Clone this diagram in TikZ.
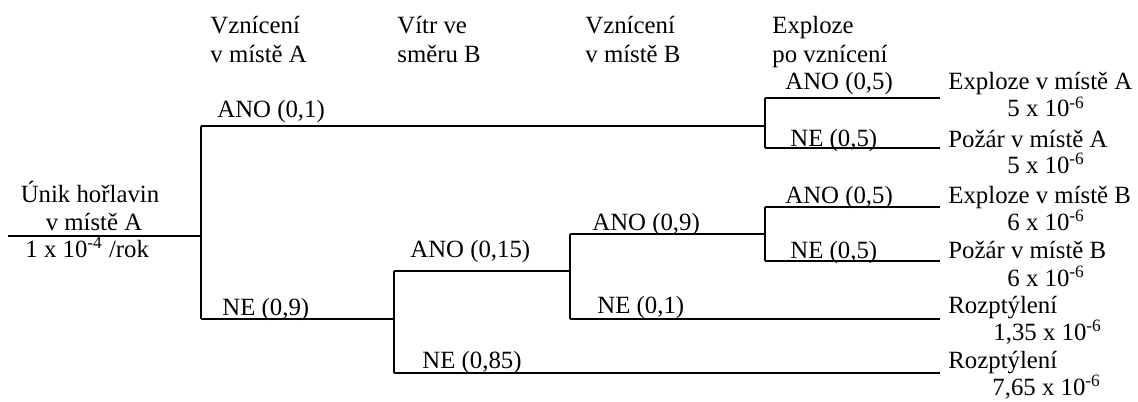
\documentclass[tikz,border=0pt]{standalone}
\usepackage{fontspec}
\setmainfont{Liberation Serif}
\begin{document}
\begin{tikzpicture}[x=0.5pt,y=-0.5pt,
  branch/.style={line width=0.9pt},
  txt/.style={inner sep=0pt,anchor=base west,font=\fontsize{12.4}{14}\selectfont},
  hdr/.style={txt,align=left,anchor=north west},
]
\useasboundingbox (0,0) rectangle (1138,401);
% headers
\node[txt] (h1a) at (210,34) {Vznícení};
\node[txt] (h1b) at (210,62) {v místě A};
\node[txt] (h2a) at (397,34) {Vítr ve};
\node[txt] (h2b) at (397,62) {směru B};
\node[txt] (h3a) at (585,34) {Vznícení};
\node[txt] (h3b) at (585,62) {v místě B};
\node[txt] (h4a) at (772,34) {Exploze};
\node[txt] (h4b) at (772,62) {po vznícení};
% root text
\node[txt,anchor=base] (ra) at (90,202) {Únik hořlavin};
\node[txt,anchor=base] (rb) at (94,230) {v místě A};
\node[txt] (rc) at (25,257) {1 x 10\textsuperscript{-4} /rok};
% coordinates
\coordinate (r0) at (8,236);
\coordinate (j1) at (201,236);
\coordinate (j1a) at (201,126);
\coordinate (j1b) at (201,319);
\coordinate (jA) at (765,126);
\coordinate (jAa) at (765,98);
\coordinate (jAb) at (765,148);
\coordinate (eA1) at (940,98);
\coordinate (eA2) at (940,148);
\coordinate (j2) at (394,319);
\coordinate (j2a) at (394,271);
\coordinate (j2b) at (394,373);
\coordinate (j3) at (570,271);
\coordinate (j3a) at (570,234);
\coordinate (j3b) at (570,319);
\coordinate (jB) at (765,234);
\coordinate (jBa) at (765,207);
\coordinate (jBb) at (765,261);
\coordinate (eB1) at (940,207);
\coordinate (eB2) at (940,261);
\coordinate (e5) at (940,319);
\coordinate (e6) at (940,373);
% branches
\draw[branch] (r0) -- (j1);
\draw[branch] (j1a) -- (j1b);
\draw[branch] (j1a) -- (jA);
\draw[branch] (jAa) -- (jAb);
\draw[branch] (jAa) -- (eA1);
\draw[branch] (jAb) -- (eA2);
\draw[branch] (j1b) -- (j2);
\draw[branch] (j2a) -- (j2b);
\draw[branch] (j2a) -- (j3);
\draw[branch] (j3a) -- (j3b);
\draw[branch] (j3a) -- (jB);
\draw[branch] (jBa) -- (jBb);
\draw[branch] (jBa) -- (eB1);
\draw[branch] (jBb) -- (eB2);
\draw[branch] (j3b) -- (e5);
\draw[branch] (j2b) -- (e6);
% branch labels
\node[txt] (l1) at (217,118) {ANO (0,1)};
\node[txt] (l2) at (222,315) {NE (0,9)};
\node[txt] (l3) at (410,257) {ANO (0,15)};
\node[txt] (l4) at (422,368) {NE (0,85)};
\node[txt] (l5) at (592,230) {ANO (0,9)};
\node[txt] (l6) at (597,313) {NE (0,1)};
\node[txt] (l7) at (785,90) {ANO (0,5)};
\node[txt] (l8) at (790,146) {NE (0,5)};
\node[txt] (l9) at (785,203) {ANO (0,5)};
\node[txt] (l10) at (790,258) {NE (0,5)};
% outcomes
\node[txt] (o1) at (948,90) {Exploze v místě A};
\node[txt] (o1p) at (1007,117) {5 x 10\textsuperscript{-6}};
\node[txt] (o2) at (948,147) {Požár v místě A};
\node[txt] (o2p) at (1007,173) {5 x 10\textsuperscript{-6}};
\node[txt] (o3) at (948,203) {Exploze v místě B};
\node[txt] (o3p) at (1007,230) {6 x 10\textsuperscript{-6}};
\node[txt] (o4) at (948,258) {Požár v místě B};
\node[txt] (o4p) at (1007,286) {6 x 10\textsuperscript{-6}};
\node[txt] (o5) at (948,313) {Rozptýlení};
\node[txt] (o5p) at (993,340) {1,35 x 10\textsuperscript{-6}};
\node[txt] (o6) at (948,368) {Rozptýlení};
\node[txt] (o6p) at (992,395) {7,65 x 10\textsuperscript{-6}};
\end{tikzpicture}
\end{document}
